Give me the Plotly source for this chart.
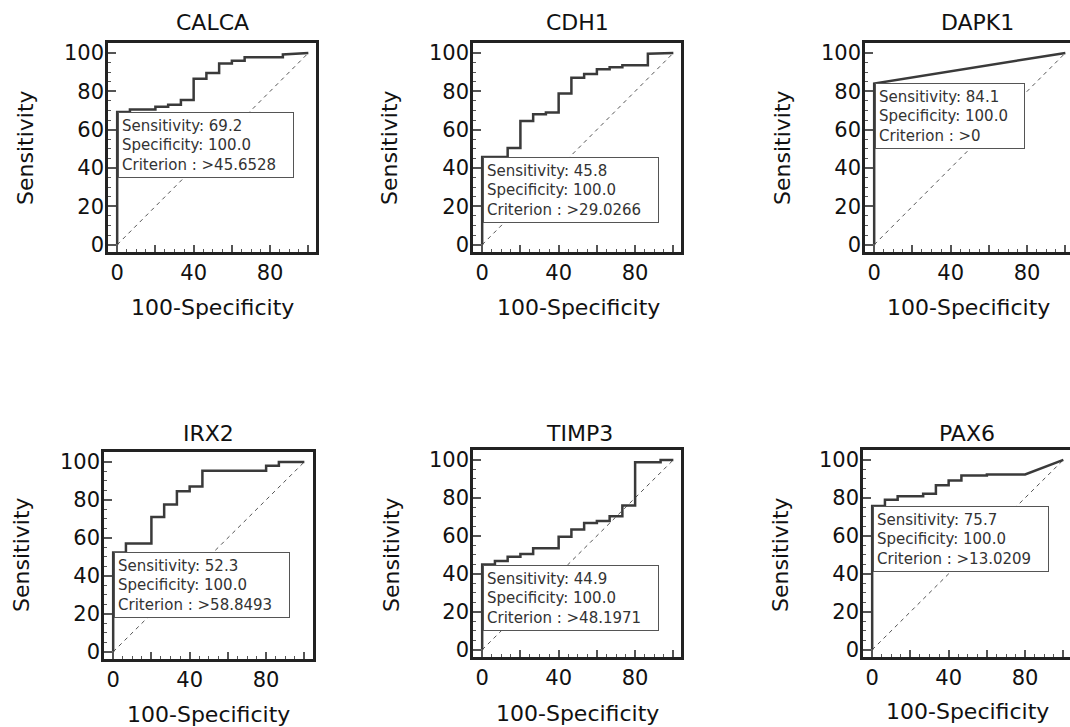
import plotly.graph_objects as go

W, H = 1070, 727

# ---------------- data (ROC vertices: 100-Specificity, Sensitivity) ----------------
markers = ["CALCA", "CDH1", "DAPK1", "IRX2", "TIMP3", "PAX6"]

calca_fpr = [0, 0, 6.67, 6.67, 20, 20, 26.67, 26.67, 33.33, 33.33, 40, 40, 46.67, 46.67,
             53.33, 53.33, 60, 60, 66.67, 66.67, 86.67, 86.67, 100]
calca_sens = [0, 69.2, 69.2, 70.5, 70.5, 72, 72, 73, 73, 75.5, 75.5, 86.5, 86.5, 89.5,
              89.5, 94.5, 94.5, 96, 96, 97.8, 97.8, 99.2, 100]

cdh1_fpr = [0, 0, 13.33, 13.33, 20, 20, 26.67, 26.67, 33.33, 33.33, 40, 40, 46.67, 46.67,
            53.33, 53.33, 60, 60, 66.67, 66.67, 73.33, 73.33, 86.67, 86.67, 100]
cdh1_sens = [0, 45.8, 45.8, 50.5, 50.5, 64.5, 64.5, 68, 68, 68.9, 68.9, 78.8, 78.8, 87.1,
             87.1, 89, 89, 91.5, 91.5, 92.5, 92.5, 93.6, 93.6, 99.6, 100]

dapk1_fpr = [0, 0, 100]
dapk1_sens = [0, 84.1, 100]

irx2_fpr = [0, 0, 6.67, 6.67, 20, 20, 26.67, 26.67, 33.33, 33.33, 40, 40, 46.67, 46.67,
            80, 80, 86.67, 86.67, 100]
irx2_sens = [0, 52.3, 52.3, 57, 57, 71, 71, 77.5, 77.5, 84.5, 84.5, 87, 87, 95.3,
             95.3, 98, 98, 100, 100]

timp3_fpr = [0, 0, 6.67, 6.67, 13.33, 13.33, 20, 20, 26.67, 26.67, 40, 40, 46.67, 46.67,
             53.33, 53.33, 60, 60, 66.67, 66.67, 73.33, 73.33, 80, 80, 93.33, 93.33, 100]
timp3_sens = [0, 44.9, 44.9, 46.8, 46.8, 49, 49, 50.4, 50.4, 53.4, 53.4, 59.5, 59.5, 63.3,
              63.3, 66.8, 66.8, 67.8, 67.8, 70.3, 70.3, 76, 76, 98.8, 98.8, 100, 100]

pax6_fpr = [0, 0, 6.67, 6.67, 13.33, 13.33, 26.67, 26.67, 33.33, 33.33, 40, 40, 46.67, 46.67,
            60, 60, 80, 100]
pax6_sens = [0, 75.7, 75.7, 79, 79, 80.8, 80.8, 82.2, 82.2, 86.6, 86.6, 89.2, 89.2, 91.8,
             91.8, 92.3, 92.3, 100]

curves_fpr = [calca_fpr, cdh1_fpr, dapk1_fpr, irx2_fpr, timp3_fpr, pax6_fpr]
curves_sens = [calca_sens, cdh1_sens, dapk1_sens, irx2_sens, timp3_sens, pax6_sens]

cut_sensitivity = ["69.2", "45.8", "84.1", "52.3", "44.9", "75.7"]
cut_specificity = ["100.0", "100.0", "100.0", "100.0", "100.0", "100.0"]
cut_criterion = [">45.6528", ">29.0266", ">0", ">58.8493", ">48.1971", ">13.0209"]
cut_sens_values = [69.2, 45.8, 84.1, 52.3, 44.9, 75.7]

diag_x = [0, 100]
diag_y = [0, 100]

x_tickvals = [0, 20, 40, 60, 80, 100]
x_ticktext = ["0", "", "40", "", "80", ""]
y_tickvals = [0, 20, 40, 60, 80, 100]
y_ticktext = ["0", "20", "40", "60", "80", "100"]

# ---------------- layout (pixel geometry) ----------------
FONT = "DejaVu Sans"
# frame boxes in pixels: left, right, top, bottom
frames = [(108, 316, 43, 252), (473, 681, 43, 252), (865, 1070, 43, 252),
          (104, 313, 452, 659), (473, 681, 450, 657), (863, 1070, 450, 657)]
X_LO, X_SPAN_PER_PX = -4.8, 108.8 / 208.0
Y_RANGE = [-3.8, 105.2]
title_pos = [(212, 23), (577, 23), (977, 23), (208, 433), (579, 433), (967, 433)]
ytitle_pos = [(25, 148), (389, 148), (782, 148), (21, 555), (391, 555), (780, 555)]
xtitle_pos = [(212, 307), (578, 307), (968, 307), (208, 714), (577, 713), (967, 711)]
box_width = [168, 168, 142, 168, 168, 168]


def px(x):
    return x / W


def py(y):
    return 1 - y / H


fig = go.Figure()
annotations = []

for i, name in enumerate(markers):
    n = "" if i == 0 else str(i + 1)
    xa, ya = "x" + n, "y" + n
    l, r, t, b = frames[i]
    x_hi = X_LO + (r - l) * X_SPAN_PER_PX

    fig.add_trace(go.Scatter(x=diag_x, y=diag_y, mode="lines", xaxis=xa, yaxis=ya,
                             line=dict(color="#555555", width=1, dash="4px,4px"),
                             showlegend=False, hoverinfo="skip"))
    fig.add_trace(go.Scatter(x=curves_fpr[i], y=curves_sens[i], mode="lines",
                             xaxis=xa, yaxis=ya,
                             line=dict(color="#3a3a3a", width=2.5),
                             showlegend=False))

    axis_common = dict(showline=True, mirror=True, linecolor="#222222", linewidth=2.5,
                       ticks="inside", tickwidth=1.5, tickcolor="#555555",
                       showgrid=False, zeroline=False, fixedrange=True,
                       tickfont=dict(family=FONT, size=21, color="#111111"))
    fig.layout["xaxis" + n] = dict(axis_common, domain=[px(l), px(r)],
                                   range=[X_LO, x_hi], anchor=ya,
                                   tickmode="array", tickvals=x_tickvals,
                                   ticktext=x_ticktext, ticklen=7,
                                   minor=dict(ticks="inside", dtick=5, tick0=0, ticklen=3,
                                              tickcolor="#555555", tickwidth=1))
    fig.layout["yaxis" + n] = dict(axis_common, domain=[py(b), py(t)],
                                   range=Y_RANGE, anchor=xa, ticklabelstandoff=-3,
                                   tickmode="array", tickvals=y_tickvals,
                                   ticktext=y_ticktext, ticklen=8,
                                   minor=dict(ticks="inside", dtick=5, tick0=0, ticklen=3,
                                              tickcolor="#555555", tickwidth=1))

    # cut-off info box
    annotations.append(dict(
        xref=xa, yref=ya, x=0.4, y=cut_sens_values[i], xanchor="left", yanchor="top",
        text=("Sensitivity: " + cut_sensitivity[i] + "<br>Specificity: " + cut_specificity[i]
              + "<br>Criterion : " + cut_criterion[i]),
        align="left", showarrow=False, bgcolor="white", bordercolor="#555555",
        borderwidth=1, borderpad=3, width=box_width[i], height=58,
        font=dict(family=FONT, size=15, color="#333333")))

    # subplot title
    tx, ty = title_pos[i]
    annotations.append(dict(xref="paper", yref="paper", x=px(tx), y=py(ty), text=name,
                            showarrow=False, xanchor="center", yanchor="middle",
                            font=dict(family=FONT, size=22, color="#111111")))
    # axis titles
    yx, yy = ytitle_pos[i]
    annotations.append(dict(xref="paper", yref="paper", x=px(yx), y=py(yy),
                            text="Sensitivity", textangle=-90, showarrow=False,
                            xanchor="center", yanchor="middle",
                            font=dict(family=FONT, size=22, color="#111111")))
    xx, xy = xtitle_pos[i]
    annotations.append(dict(xref="paper", yref="paper", x=px(xx), y=py(xy),
                            text="100-Specificity", showarrow=False,
                            xanchor="center", yanchor="middle",
                            font=dict(family=FONT, size=22, color="#111111")))

fig.update_layout(width=W, height=H, margin=dict(l=0, r=0, t=0, b=0, autoexpand=False),
                  paper_bgcolor="white", plot_bgcolor="white",
                  annotations=annotations, font=dict(family=FONT))

fig.write_html("out.html", config=dict(displayModeBar=False),
               post_script="document.body.style.margin='0px';"
                           "document.body.style.overflow='hidden';")
